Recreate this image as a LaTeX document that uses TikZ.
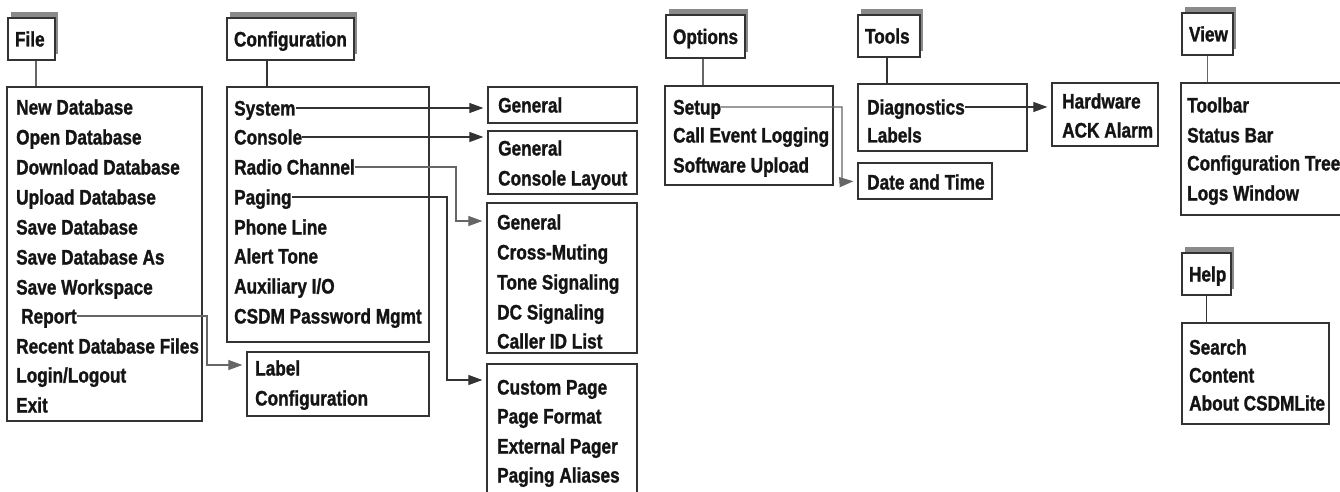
\documentclass[tikz,border=0pt]{standalone}
\usepackage{fontspec}
\newfontfamily\mf{Liberation Sans}[FakeStretch=0.82, FakeBold=1.2]
\usetikzlibrary{arrows.meta,shadows}
\definecolor{inkc}{HTML}{141414}
\definecolor{edgec}{HTML}{333333}
\definecolor{shadec}{HTML}{8A8A8A}
\definecolor{greyw}{HTML}{666666}
\begin{document}
\begin{tikzpicture}[x=1pt,y=-1pt,
  every node/.style={font=\mf\bfseries\fontsize{21}{25}\selectfont, text=inkc},
  menubox/.style={draw=edgec, line width=1.3pt, fill=white, inner sep=0pt},
  hdr/.style={menubox, inner xsep=7pt, inner ysep=0pt, text height=15pt,
    text depth=0pt, align=left, minimum height=42pt,
    drop shadow={shadow xshift=3pt, shadow yshift=6pt, fill=shadec, draw=none, opacity=1}},
  item/.style={anchor=west, inner sep=0pt, text height=15pt, text depth=0pt},
  wire/.style={draw=edgec, line width=1.1pt},
  softwire/.style={draw=greyw, line width=1.1pt},
  arr/.style={-{Triangle[length=14pt,width=10pt]}, shorten >=4pt},
]
\useasboundingbox (0,0) rectangle (1340,492);
\fill[white] (0,0) rectangle (1340,492);
\clip (0,0) rectangle (1340,492);

% ---- menu titles
\node[hdr, text width=33pt] (filehdr) at (31.5,39) {File};
\node[hdr, text width=113pt] (cfghdr) at (290.5,39) {Configuration};
\node[hdr, text width=65pt, minimum height=43pt] (opthdr) at (705.5,36.5) {Options};
\node[hdr, text width=48pt] (toolhdr) at (889,36) {Tools};
\node[hdr, text width=37pt] (viewhdr) at (1207.5,34) {View};
\node[hdr, text width=35pt] (helphdr) at (1206.5,274) {Help};

% ---- drop-down panels
\node[menubox, minimum width=195pt, minimum height=334pt] (filelist) at (104.5,254) {};
\node[menubox, minimum width=202pt, minimum height=255pt] (cfglist) at (328,214.5) {};
\node[menubox, minimum width=149pt, minimum height=36pt] (sysbox) at (562.5,105) {};
\node[menubox, minimum width=149pt, minimum height=63pt] (conbox) at (562.5,162.5) {};
\node[menubox, minimum width=150pt, minimum height=150pt] (radbox) at (562,278) {};
\node[menubox, minimum width=150pt, minimum height=131pt] (pagbox) at (562,429.5) {};
\node[menubox, minimum width=182pt, minimum height=64pt] (lblbox) at (338,384) {};
\node[menubox, minimum width=168pt, minimum height=99pt] (optlist) at (749,135.5) {};
\node[menubox, minimum width=134pt, minimum height=36pt] (datebox) at (925,181) {};
\node[menubox, minimum width=169pt, minimum height=67pt] (toollist) at (942.5,117.5) {};
\node[menubox, minimum width=106pt, minimum height=63pt] (hwbox) at (1105,114.5) {};
\node[menubox, minimum width=179pt, minimum height=132pt] (viewlist) at (1270.5,149) {};
\node[menubox, minimum width=147pt, minimum height=101pt] (helplist) at (1255.5,373.5) {};

% ---- title stems
\draw[softwire] (filehdr.south) ++(4.5,0) coordinate (fs) -- (fs |- filelist.north);
\draw[wire] (cfghdr.south) ++(-23.5,0) coordinate (cs) -- (cs |- cfglist.north);
\draw[softwire] (opthdr.south) ++(-2.5,0) coordinate (os) -- (os |- optlist.north);
\draw[wire] (toolhdr.south) ++(-2,0) coordinate (ts) -- (ts |- toollist.north);
\draw[softwire] (viewhdr.south) -- (viewhdr.south |- viewlist.north);
\draw[wire] (helphdr.south) -- (helphdr.south |- helplist.north);

% ---- File items
\node[item] (f1) at (16,107) {New Database};
\node[item] (f2) at (16,137) {Open Database};
\node[item] (f3) at (16,167) {Download Database};
\node[item] (f4) at (16,197) {Upload Database};
\node[item] (f5) at (16,227) {Save Database};
\node[item] (f6) at (16,257) {Save Database As};
\node[item] (f7) at (16,287) {Save Workspace};
\node[item] (report) at (21,316) {Report};
\node[item] (f9) at (16,346) {Recent Database Files};
\node[item] (f10) at (16,375) {Login/Logout};
\node[item] (f11) at (16,405) {Exit};

% ---- Configuration items
\node[item] (system) at (234,108) {System};
\node[item] (console) at (234,137) {Console};
\node[item] (radio) at (234,167) {Radio Channel};
\node[item] (paging) at (234,197) {Paging};
\node[item] (c5) at (234,227) {Phone Line};
\node[item] (c6) at (234,256) {Alert Tone};
\node[item] (c7) at (234,286) {Auxiliary I/O};
\node[item] (c8) at (234,316) {CSDM Password Mgmt};

\node[item] (s1) at (498,105) {General};
\node[item] (k1) at (498,148) {General};
\node[item] (k2) at (498,178) {Console Layout};
\node[item] (r1) at (497,222) {General};
\node[item] (r2) at (497,252) {Cross-Muting};
\node[item] (r3) at (497,282) {Tone Signaling};
\node[item] (r4) at (497,312) {DC Signaling};
\node[item] (r5) at (497,341) {Caller ID List};
\node[item] (p1) at (497,387) {Custom Page};
\node[item] (p2) at (497,416) {Page Format};
\node[item] (p3) at (497,446) {External Pager};
\node[item] (p4) at (497,475) {Paging Aliases};
\node[item] (l1) at (255,368) {Label};
\node[item] (l2) at (255,398) {Configuration};

% ---- Options items
\node[item] (setup) at (673,107) {Setup};
\node[item] (o2) at (673,135) {Call Event Logging};
\node[item] (o3) at (673,165) {Software Upload};
\node[item] (d1) at (867,182) {Date and Time};

% ---- Tools items
\node[item] (diag) at (867,107) {Diagnostics};
\node[item] (t2) at (867,135) {Labels};
\node[item] (h1) at (1062,101) {Hardware};
\node[item] (h2) at (1062,130) {ACK Alarm};

% ---- View items
\node[item] (v1) at (1187,105) {Toolbar};
\node[item] (v2) at (1187,135) {Status Bar};
\node[item] (v3) at (1187,163) {Configuration Tree};
\node[item] (v4) at (1187,193) {Logs Window};

% ---- Help items
\node[item] (e1) at (1189,347) {Search};
\node[item] (e2) at (1189,375) {Content};
\node[item] (e3) at (1189,403) {About CSDMLite};

% ---- sub-menu connectors
\coordinate (repbend) at (207,365);
\coordinate (radbend) at (456,221);
\coordinate (pagbend) at (447,380);
\coordinate (setbend) at (842,182);

\draw[softwire, arr] (report.east) -| (repbend) -- (repbend -| lblbox.west);
\draw[wire, arr] (system.east) -- (system.east -| sysbox.west);
\draw[wire, arr] (console.east) -- (console.east -| conbox.west);
\draw[softwire, arr] (radio.east) -| (radbend) -- (radbend -| radbox.west);
\draw[wire, arr] (paging.east) -| (pagbend) -- (pagbend -| pagbox.west);
\draw[softwire, arr] (setup.east) -| (setbend) -- (datebox.west);
\draw[wire, arr] (diag.east) -- (diag.east -| hwbox.west);
\end{tikzpicture}
\end{document}
